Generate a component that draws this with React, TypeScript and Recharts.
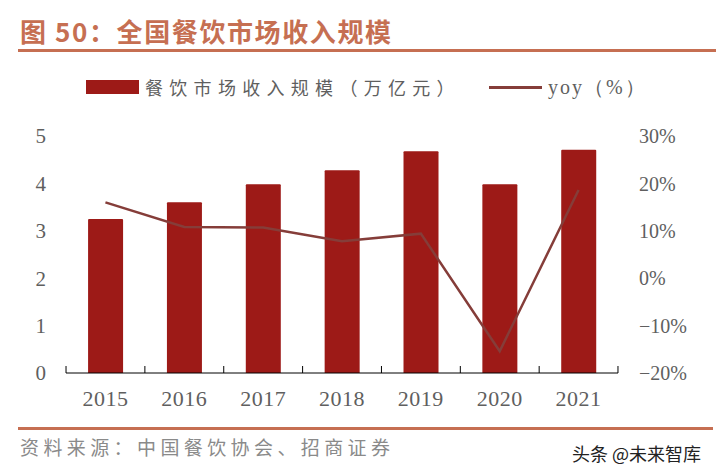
import { Bar, ComposedChart, Line, XAxis, YAxis } from "recharts";

const years = ["2015", "2016", "2017", "2018", "2019", "2020", "2021"];
const revenue = [3.25, 3.6, 3.98, 4.28, 4.68, 3.98, 4.71]; // 万亿元
const yoy = [16.0, 10.8, 10.7, 7.8, 9.4, -15.4, 18.6]; // %
const leftTicks = [0, 1, 2, 3, 4, 5];
const rightTicks = [-20, -10, 0, 10, 20, 30];

const data = years.map((year, i) => ({ year, revenue: revenue[i], yoy: yoy[i] }));

const BAR = "#9d1a17";
const LINE = "#853d39";
const GREY = "#5f5f5f";
const ACCENT = "#c66f52";
const SERIF = '"Liberation Serif", "DejaVu Serif", serif';
const CJK = '"Noto Sans CJK SC", "Noto Sans", sans-serif';

const HALF_BAND = 39.4;

function YearTick(props: any) {
  const { x, y, payload, index } = props;
  const last = index === years.length - 1;
  return (
    <g>
      <line x1={x - HALF_BAND} y1={y} x2={x - HALF_BAND} y2={y - 7} stroke="#000" />
      {last && <line x1={x + HALF_BAND} y1={y} x2={x + HALF_BAND} y2={y - 7} stroke="#000" />}
      <text x={x} y={y + 33} textAnchor="middle" fill={GREY} fontSize={22} fontFamily={SERIF} letterSpacing={0.5}>
        {payload.value}
      </text>
    </g>
  );
}

const pct = (v: number) => (v < 0 ? `−${Math.abs(v)}%` : `${v}%`);

export default function App() {
  return (
    <div style={{ position: "absolute", left: 0, top: 0, width: 716, height: 476, background: "#fff" }}>
      {/* title */}
      <div
        style={{
          position: "absolute", left: 20, top: 14, fontFamily: CJK, fontWeight: 700,
          fontSize: 26, lineHeight: "34px", color: ACCENT, letterSpacing: 1.6, whiteSpace: "nowrap",
        }}
      >
        图 50：全国餐饮市场收入规模
      </div>
      <div style={{ position: "absolute", left: 18, top: 49, width: 698, height: 3, background: ACCENT }} />

      {/* legend */}
      <div style={{ position: "absolute", left: 86, top: 80, width: 53, height: 14, background: BAR }} />
      <div
        style={{
          position: "absolute", left: 145, top: 74, fontFamily: CJK, fontSize: 18, lineHeight: "26px",
          color: GREY, letterSpacing: 6.3, whiteSpace: "nowrap",
        }}
      >
        餐饮市场收入规模（万亿元）
      </div>
      <div style={{ position: "absolute", left: 489, top: 86, width: 53, height: 2.5, background: LINE }} />
      <div
        style={{
          position: "absolute", left: 548, top: 74, fontFamily: SERIF, fontSize: 20, lineHeight: "26px",
          color: GREY, letterSpacing: 2, whiteSpace: "nowrap",
        }}
      >
        yoy（%）
      </div>

      <div style={{ position: "absolute", left: 0, top: 0 }}>
        <ComposedChart
          width={716}
          height={476}
          data={data}
          margin={{ top: 136, right: 0, bottom: 63, left: 0 }}
          barCategoryGap="28%"
        >
          <XAxis
            dataKey="year"
            height={40}
            axisLine={{ stroke: "#000", strokeWidth: 1 }}
            tickLine={false}
            tickSize={0}
            tickMargin={0}
            tick={<YearTick />}
            interval={0}
          />
          <YAxis
            yAxisId="left"
            width={66}
            domain={[0, 5]}
            ticks={leftTicks}
            axisLine={false}
            tickLine={false}
            tickSize={0}
            tickMargin={20}
            tick={{ fill: GREY, fontSize: 21, fontFamily: SERIF }}
          />
          <YAxis
            yAxisId="right"
            orientation="right"
            width={98}
            domain={[-20, 30]}
            ticks={rightTicks}
            tickFormatter={pct}
            axisLine={false}
            tickLine={false}
            tickSize={0}
            tickMargin={21}
            tick={{ fill: GREY, fontSize: 20, fontFamily: SERIF, textAnchor: "start" }}
          />
          <Bar yAxisId="left" dataKey="revenue" fill={BAR} radius={[1, 1, 0, 0]} isAnimationActive={false} />
          <Line
            yAxisId="right"
            type="linear"
            dataKey="yoy"
            stroke={LINE}
            strokeWidth={2.5}
            dot={false}
            isAnimationActive={false}
          />
        </ComposedChart>
      </div>

      {/* footer */}
      <div style={{ position: "absolute", left: 18, top: 427, width: 695, height: 3, background: ACCENT }} />
      <div
        style={{
          position: "absolute", left: 20, top: 434, fontFamily: CJK, fontSize: 19, lineHeight: "26px",
          color: "#8a8a8a", letterSpacing: 4.4, whiteSpace: "nowrap",
        }}
      >
        资料来源：中国餐饮协会、招商证券
      </div>
      <div
        style={{
          position: "absolute", left: 572, top: 441, fontFamily: CJK, fontSize: 18, lineHeight: "24px",
          color: "#222", whiteSpace: "nowrap",
        }}
      >
        头条 @未来智库
      </div>
    </div>
  );
}
